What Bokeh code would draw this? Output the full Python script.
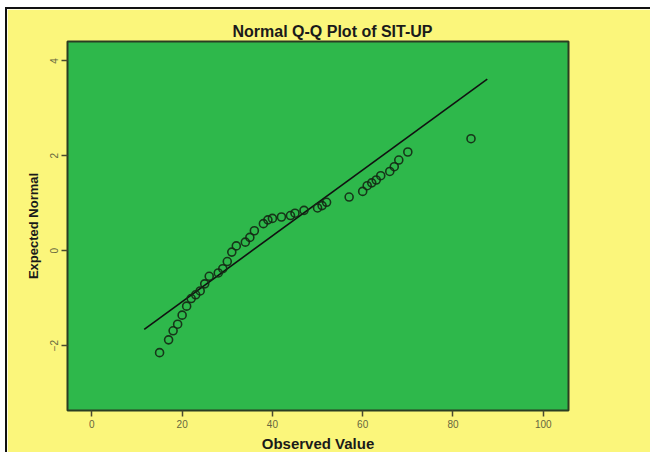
from bokeh.plotting import figure
from bokeh.layouts import column
from bokeh.models import Range1d, FixedTicker
from bokeh.embed import file_html
from bokeh.resources import INLINE

# Data
observed = [15, 17, 18, 19, 20, 21, 22, 23, 24, 25, 26, 28, 29, 30, 31, 32, 34, 35, 36, 38,
            39, 40, 42, 44, 45, 47, 50, 51, 52, 57, 60, 61, 62, 63, 64, 66, 67, 68, 70, 84]
expected = [-2.15, -1.88, -1.69, -1.55, -1.36, -1.17, -1.01, -0.93, -0.85, -0.70,
            -0.54, -0.47, -0.38, -0.23, -0.03, 0.10, 0.18, 0.28, 0.42, 0.57,
            0.65, 0.68, 0.71, 0.74, 0.79, 0.85, 0.90, 0.95, 1.02, 1.13,
            1.25, 1.37, 1.43, 1.49, 1.58, 1.67, 1.77, 1.91, 2.08, 2.36]

# Reference line (normal fit): mean and sd
fit_mean = 35.5
fit_sd = 14.4
line_x = [11.6, 87.6]
line_y = [(v - fit_mean) / fit_sd for v in line_x]

x_ticks = [0, 20, 40, 60, 80, 100]
y_ticks = [-2, 0, 2, 4]

YELLOW = "#FBF67B"
GREEN = "#2EB84B"

p = figure(frame_width=499, frame_height=367,
           min_border_left=60, min_border_right=84,
           min_border_top=32, min_border_bottom=44,
           x_range=Range1d(-5.4, 105.6), y_range=Range1d(-3.37, 4.41),
           output_backend="svg", toolbar_location=None,
           background_fill_color=GREEN, border_fill_color=YELLOW)
p.styles = {"border-left": "2px solid #111111", "border-top": "2px solid #111111"}

p.title.text = "Normal Q-Q Plot of SIT-UP"
p.title.align = "left"
p.title.offset = 165
p.title.text_font = "Liberation Sans"
p.title.text_font_size = "16px"
p.title.text_font_style = "bold"
p.title.text_color = "#1a1a1a"
p.title.standoff = 4

p.grid.visible = False
p.outline_line_color = "#2a3d22"
p.outline_line_width = 2

for ax in (p.xaxis[0], p.yaxis[0]):
    ax.axis_line_color = "#2a3d22"
    ax.axis_line_width = 1
    ax.major_tick_in = 0
    ax.major_tick_out = 6
    ax.major_tick_line_color = "#4a4a30"
    ax.major_tick_line_width = 1.5
    ax.minor_tick_line_color = None
    ax.major_label_standoff = 3
    ax.major_label_text_font = "Liberation Sans"
    ax.major_label_text_font_size = "10px"
    ax.major_label_text_color = "#66663f"
    ax.axis_label_text_font = "Liberation Sans"
    ax.axis_label_text_font_style = "bold"
    ax.axis_label_text_color = "#1a1a1a"

p.xaxis.ticker = FixedTicker(ticks=x_ticks)
p.yaxis.ticker = FixedTicker(ticks=y_ticks)
p.xaxis.axis_label = "Observed Value"
p.yaxis.axis_label = "Expected Normal"
p.xaxis.axis_label_text_font_size = "15px"
p.yaxis.axis_label_text_font_size = "13px"
p.yaxis.major_label_orientation = "vertical"
p.xaxis.axis_label_standoff = 4
p.yaxis.axis_label_standoff = 7

p.line(line_x, line_y, line_color="#111111", line_width=1.6)
p.scatter(observed, expected, marker="circle", size=8, fill_color=None,
          line_color="#142814", line_alpha=0.9, line_width=1.6)

layout = column(p, styles={"padding": "7px 0px 0px 5px", "background-color": "white"})

open("out.html", "w").write(file_html(layout, INLINE))
